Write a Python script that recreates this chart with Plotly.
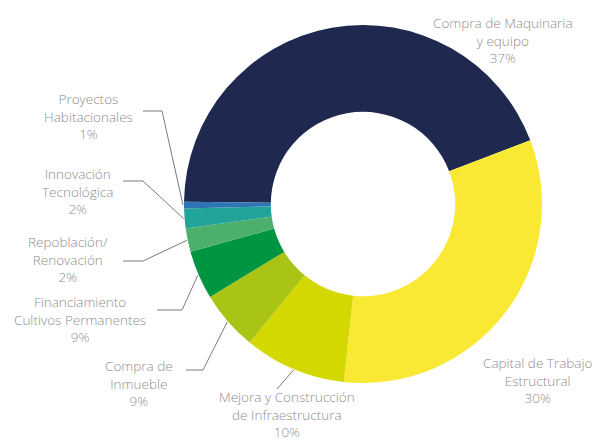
import math
import plotly.graph_objects as go

# ---- data ----
categories = [
    "Compra de Maquinaria y equipo",
    "Capital de Trabajo Estructural",
    "Mejora y Construcción de Infraestructura",
    "Compra de Inmueble",
    "Financiamiento Cultivos Permanentes",
    "Repoblación/Renovación",
    "Innovación Tecnológica",
    "Proyectos Habitacionales",
]
# slice sizes as drawn
slice_values = [44.0, 32.5, 9.2, 5.4, 4.4, 2.1, 1.8, 0.6]
# percentages as printed in the labels
label_pct = ["37%", "30%", "10%", "9%", "9%", "2%", "2%", "1%"]
label_text = [
    "Compra de Maquinaria<br>y equipo",
    "Capital de Trabajo<br>Estructural",
    "Mejora y Construcción<br>de Infraestructura",
    "Compra de<br>Inmueble",
    "Financiamiento<br>Cultivos Permanentes",
    "Repoblación/<br>Renovación",
    "Innovación<br>Tecnológica",
    "Proyectos<br>Habitacionales",
]
colors = ["#1F294F", "#F9E935", "#D3D800", "#A9C414",
          "#009540", "#4CAF6C", "#22A49A", "#2F74B5"]

# ---- layout geometry (pixels) ----
W, H = 599, 443
CX, CY, R = 363, 204, 179
ROTATION = -89.25

# label centres and leader-line elbows (pixel positions)
label_pos = [(503, 40), (538, 380), (287, 414), (139, 383),
             (80, 319), (68, 259), (77, 191), (88, 116)]
leader_path = [None, None, [(277, 389)], [(203, 370), (186, 370)],
               [(182, 310), (157, 310)], [(143, 261), (123, 261)],
               [(143, 181), (123, 181)], [(162, 111), (143, 111)]]

fig = go.Figure()

fig.add_trace(go.Pie(
    labels=categories,
    values=slice_values,
    sort=False,
    direction="clockwise",
    rotation=ROTATION,
    hole=0.515,
    marker=dict(colors=colors, line=dict(width=0)),
    textinfo="none",
    hoverinfo="label",
    showlegend=False,
    domain=dict(x=[(CX - R) / W, (CX + R) / W],
                y=[1 - (CY + R) / H, 1 - (CY - R) / H]),
))

# leader lines: start at slice mid-angle on the outer edge
total = sum(slice_values)
cum = 0.0
for i, v in enumerate(slice_values):
    span = v / total * 360
    mid = math.radians(ROTATION + cum + span / 2)
    cum += span
    if leader_path[i] is None:
        continue
    px = CX + (R + 1) * math.sin(mid)
    py = CY - (R + 1) * math.cos(mid)
    xs = [px] + [p[0] for p in leader_path[i]]
    ys = [py] + [p[1] for p in leader_path[i]]
    fig.add_trace(go.Scatter(x=xs, y=ys, mode="lines",
                             line=dict(color="#7a7a7a", width=1),
                             hoverinfo="skip", showlegend=False))

for i, (x, y) in enumerate(label_pos):
    fig.add_annotation(x=x, y=y, xref="x", yref="y",
                       text=label_text[i] + "<br>" + label_pct[i],
                       showarrow=False, align="center",
                       xanchor="center", yanchor="middle",
                       font=dict(family="Open Sans", size=13.5,
                                 color="#8e8e8e", weight=300))

fig.update_layout(
    width=W, height=H,
    margin=dict(l=0, r=0, t=0, b=0),
    paper_bgcolor="white", plot_bgcolor="rgba(0,0,0,0)",
    xaxis=dict(range=[0, W], visible=False, fixedrange=True, domain=[0, 1]),
    yaxis=dict(range=[H, 0], visible=False, fixedrange=True, domain=[0, 1]),
)

fig.write_html("out.html",
               config={"displayModeBar": False},
               post_script="document.body.style.margin='0px';"
                           "document.body.style.overflow='hidden';")
